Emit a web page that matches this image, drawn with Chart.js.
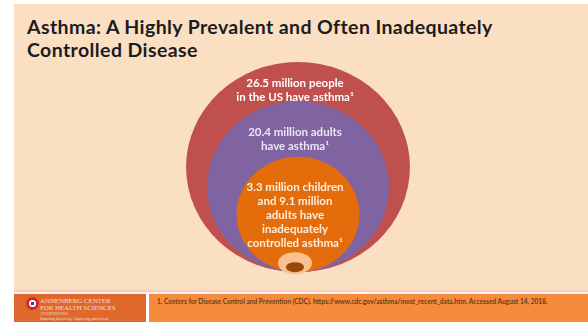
<!DOCTYPE html>
<html>
<head>
<meta charset="utf-8">
<script src="https://cdn.jsdelivr.net/npm/chart.js@4.4.1/dist/chart.umd.min.js"></script>
<style>
  html, body { margin: 0; padding: 0; background: #ffffff; }
  body { width: 588px; height: 322px; position: relative; overflow: hidden; font-family: Lato, 'Open Sans', sans-serif; }
  .slide { position: absolute; left: 14px; top: 4px; width: 574px; height: 286px; background: #fbdfc3; }
  .title { position: absolute; left: 27px; top: 15px; margin: 0; font-size: 19.5px; line-height: 23px; font-weight: 700; color: #1c1c1c; letter-spacing: 0.4px; white-space: nowrap; }
  .rule1 { position: absolute; left: 14px; top: 290px; width: 574px; height: 2px; background: #f8cbbb; }
  .rule2 { position: absolute; left: 14px; top: 292px; width: 574px; height: 2px; background: #fdf1ea; }
  .foot-left { position: absolute; left: 14px; top: 294px; width: 132px; height: 28px; background: #df682d; }
  .foot-right { position: absolute; left: 149px; top: 294px; width: 439px; height: 28px; background: #f68b3d; }
  .cite { position: absolute; left: 8px; top: 3px; font-size: 6.6px; font-weight: 700; color: #6a3d18; white-space: nowrap; }
  .logo { position: absolute; left: 12px; top: 3px; width: 13px; height: 13px; border-radius: 50%; background: #d9262c; }
  .logo::before { content: ''; position: absolute; left: 3px; top: 3px; width: 7px; height: 7px; border-radius: 50%; background: #ffffff; }
  .logo::after { content: ''; position: absolute; left: 5px; top: 5px; width: 3px; height: 3px; background: #2b4aa0; }
  .org { position: absolute; left: 26px; top: 4px; font-family: 'Liberation Serif', serif; color: #f8dccd; white-space: nowrap; }
  .org .l1 { font-size: 7px; line-height: 7px; letter-spacing: -0.1px; }
  .org .l2 { font-size: 3.5px; line-height: 5px; }
  .org .l3 { font-size: 3.8px; line-height: 5px; }
  #wrap { position: absolute; left: 148px; top: 40px; width: 300px; height: 250px; }
</style>
</head>
<body>
<div class="slide"></div>
<h1 class="title">Asthma: A Highly Prevalent and Often Inadequately<br>Controlled Disease</h1>
<div id="wrap"><canvas id="rings"></canvas></div>
<div class="rule1"></div>
<div class="rule2"></div>
<div class="foot-left">
  <div class="logo"></div>
  <div class="org"><div class="l1">ANNENBERG CENTER<br>FOR HEALTH SCIENCES</div><div class="l2">AT EISENHOWER</div><div class="l3">Imparting knowledge. Improving patient care.</div></div>
</div>
<div class="foot-right"><div class="cite">1. Centers for Disease Control and Prevention (CDC). https://www.cdc.gov/asthma/most_recent_data.htm. Accessed August 14, 2018.</div></div>
<script>
// People with asthma in the US, millions (outer ring to inner ring)
const ringValues = [26.5, 20.4, 12.4];
const ringLabels = [
    ['26.5 million people', 'in the US have asthma¹'],
    ['20.4 million adults', 'have asthma¹'],
    ['3.3 million children', 'and 9.1 million', 'adults have', 'inadequately', 'controlled asthma¹']
];
const ringColors = ['#c0504d', '#8064a2', '#e46c0a'];
const labelColors = ['#ffffff', '#ece6f4', '#fdeee0'];

// radius grows a little slower than the count itself
const RADIUS_EXP = 0.79;
const ringRadius = v => Math.pow(v / ringValues[0], RADIUS_EXP);

// every ring rests on y = 0, so its centre sits one radius up
const ringPoints = ringValues.map(v => ({ x: 0, y: ringRadius(v), size: ringRadius(v) }));

const ringsPlugin = {
    id: 'nestedRings',
    afterDatasetsDraw(chart) {
        const {ctx, scales: {x, y}} = chart;
        const meta = chart.getDatasetMeta(0);
        const base = y.getPixelForValue(0);
        const shapes = meta.data.map((pt, i) => {
            const size = ringPoints[i].size;
            const rx = Math.abs(x.getPixelForValue(size) - x.getPixelForValue(0));
            const ry = Math.abs(y.getPixelForValue(size) - y.getPixelForValue(0));
            return { cx: pt.x, cy: pt.y, rx, ry, top: pt.y - ry };
        });
        ctx.save();
        shapes.forEach((s, i) => {
            ctx.fillStyle = ringColors[i];
            ctx.beginPath();
            ctx.ellipse(s.cx, s.cy, s.rx, s.ry, 0, 0, Math.PI * 2);
            ctx.fill();
        });
        // small core at the bottom of the innermost ring
        const cx = shapes[0].cx - 3;
        ctx.fillStyle = '#fac090';
        ctx.beginPath();
        ctx.ellipse(cx, base - 9, 17, 11, 0, 0, Math.PI * 2);
        ctx.fill();
        ctx.fillStyle = '#984807';
        ctx.beginPath();
        ctx.ellipse(cx, base - 5, 9, 5, 0, 0, Math.PI * 2);
        ctx.fill();

        ctx.textAlign = 'center';
        ctx.textBaseline = 'middle';
        ctx.font = '700 11.5px Lato, sans-serif';
        const lineH = 14;
        shapes.forEach((s, i) => {
            const nextTop = i + 1 < shapes.length ? shapes[i + 1].top : base - 20;
            const lines = ringLabels[i];
            const mid = (s.top + nextTop) / 2 + 9 + i;
            const first = mid - (lines.length - 1) * lineH / 2;
            ctx.fillStyle = labelColors[i];
            lines.forEach((line, j) => ctx.fillText(line, s.cx - 3, first + j * lineH));
        });
        ctx.restore();
    }
};

new Chart(document.getElementById('rings'), {
    type: 'scatter',
    data: {
        datasets: [{ data: ringPoints, pointRadius: 0, pointHoverRadius: 0 }]
    },
    options: {
        responsive: true,
        maintainAspectRatio: false,
        animation: false,
        events: [],
        layout: { padding: 0 },
        plugins: { legend: { display: false }, tooltip: { enabled: false } },
        scales: {
            x: { display: false, min: -1.34, max: 1.34 },
            y: { display: false, min: -0.17, max: 2.21 }
        }
    },
    plugins: [ringsPlugin]
});
</script>
</body>
</html>
